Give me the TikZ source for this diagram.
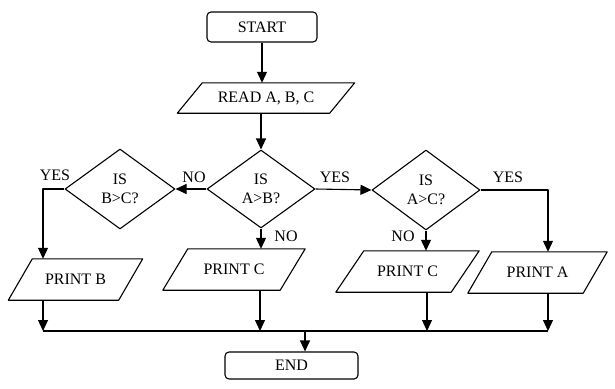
\documentclass[tikz,border=0pt]{standalone}
\usepackage{fontspec}
\setmainfont{Liberation Serif}
\usetikzlibrary{shapes.geometric,arrows.meta}
\newcommand\ioshape[2]{%
  \draw[ln] ([xshift=#2pt]#1.north west) -- (#1.north east) -- ([xshift=-#2pt]#1.south east) -- (#1.south west) -- cycle;}
\begin{document}
\begin{tikzpicture}[x=1pt,y=-1pt,
  every node/.style={font=\fontsize{16}{19}\selectfont},
  ln/.style={line width=1.1pt, black, line join=round},
  arr/.style={ln, -{Triangle[length=11pt,width=10pt]}},
  term/.style={draw, ln, rounded corners=4pt, inner sep=0pt, align=center},
  iobox/.style={inner sep=0pt, minimum height=41pt, align=center},
  dec/.style={draw, ln, diamond, inner sep=0pt, align=center},
  lab/.style={inner sep=1pt}]
\useasboundingbox (0,0) rectangle (615,388);
% terminals
\node[term, minimum width=110pt, minimum height=30pt] (start) at (262,27) {START};
\node[term, minimum width=133pt, minimum height=27pt] (end) at (291.5,365.5) {END};
% input/output
\node[iobox, minimum width=177pt, minimum height=30pt] (read) at (266,98) {READ A, B, C};
\ioshape{read}{25}
\node[iobox, minimum width=134pt] (pb) at (75.5,279.5) {PRINT B};
\ioshape{pb}{24}
\node[iobox, minimum width=142pt] (pc) at (234,269.5) {PRINT C};
\ioshape{pc}{25}
\node[iobox, minimum width=143pt] (pc2) at (407.5,271.5) {PRINT C};
\ioshape{pc2}{28}
\node[iobox, minimum width=139pt] (pa) at (537.5,272.5) {PRINT A};
\ioshape{pa}{24}
% decisions
\node[dec, minimum width=108pt, minimum height=78pt] (ab) at (261,189) {IS\\A>B?};
\node[dec, minimum width=110pt, minimum height=80pt] (bc) at (120,189) {IS\\B>C?};
\node[dec, minimum width=108pt, minimum height=80pt] (ac) at (426,190) {IS\\A>C?};
% junction coordinates
\coordinate (jb) at (43,331);
\coordinate (jc) at (260,331);
\coordinate (jc2) at (427,331);
\coordinate (ja) at (548,331);
\coordinate (je) at (305,331);
% connectors
\draw[arr] (start.south) -- (start.south |- read.north);
\draw[arr] (ab.north |- read.south) -- (ab.north);
\draw[arr] (ab.west) -- (bc.east);
\draw[arr] (ab.east) -- (ac.west);
\draw[arr] (bc.west) -| (jb |- pb.north);
\draw[arr] (ab.south) -- (ab.south |- pc.north);
\draw[arr] (ac.south) -- (ac.south |- pc2.north);
\draw[arr] (ac.east) -| (ja |- pa.north);
\draw[arr] (jb |- pb.south) -- (jb);
\draw[arr] (jc |- pc.south) -- (jc);
\draw[arr] (jc2 |- pc2.south) -- (jc2);
\draw[arr] (ja |- pa.south) -- (ja);
\draw[ln] (jb) -- (ja);
\draw[arr] (je) -- (je |- end.north);
% labels
\node[lab] (yes1) at (55,175) {YES};
\node[lab] (no1) at (194,177) {NO};
\node[lab] (yes2) at (335,177) {YES};
\node[lab] (no2) at (286,236) {NO};
\node[lab] (no3) at (403,236) {NO};
\node[lab] (yes3) at (508,177) {YES};
\end{tikzpicture}
\end{document}
